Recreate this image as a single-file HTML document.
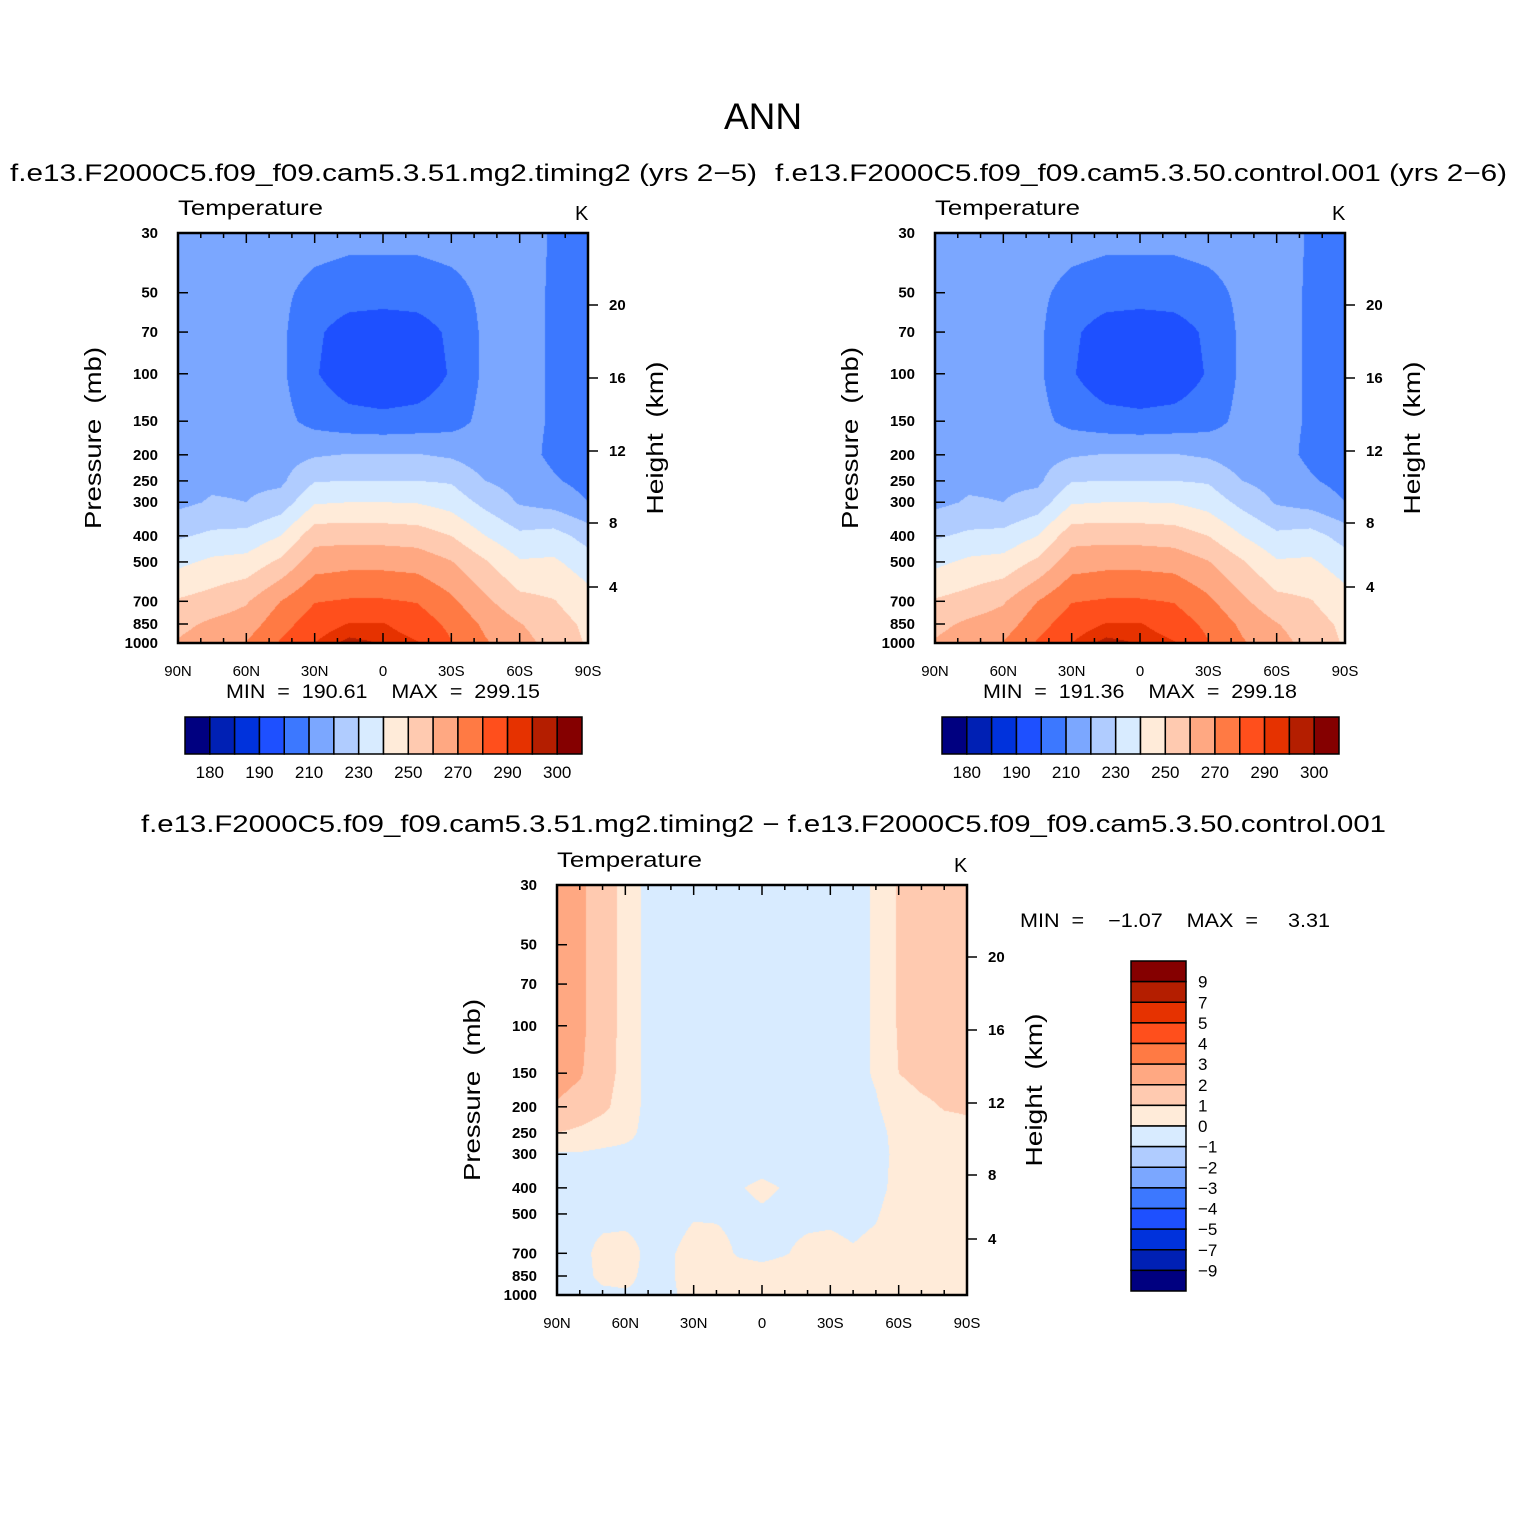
<!DOCTYPE html>
<html><head><meta charset="utf-8">
<style>
html,body{margin:0;padding:0;background:#fff;}
#root{position:relative;width:1524px;height:1524px;overflow:hidden;background:#fff;font-family:"Liberation Sans",sans-serif;}
canvas{position:absolute;}
svg{position:absolute;left:0;top:0;}
text{font-family:"Liberation Sans",sans-serif;fill:#000;white-space:pre;}
</style></head>
<body>
<div id="root">
<canvas id="cA" width="410" height="410" style="left:178px;top:233px"></canvas>
<canvas id="cB" width="410" height="410" style="left:935px;top:233px"></canvas>
<canvas id="cD" width="410" height="410" style="left:557px;top:885px"></canvas>
<svg id="sv" width="1524" height="1524" xmlns="http://www.w3.org/2000/svg"></svg>
</div>
<script>
// ---- data ----
const pLevels=[30,50,70,100,150,200,250,300,400,500,700,850,1000];
const latsA=[90,75,60,45,30,15,0,-15,-30,-45,-60,-75,-90];
// tempA[lat][pressure]
const tempA=[
[216,215,215,215,215,215,217,217.5,228.7,237.7,251,257,261],
[216,215,215,215,215,216,218,221,232,242,254,262,266],
[216,215,215,215,215,216,218,220,233,243.5,259,265,270.5],
[215,212,212,212,213,216,218,224,240,252,270,276,281],
[214,207,202,201,207,219,229.5,239,256,265.5,279.5,285.5,290],
[213,205,195,193,204,220.5,230,240,256.5,267,281,290.3,297],
[213,205,193,191,203,220.5,230,240,256,267,281,290.5,294.5],
[213,205,195,193,204,220.5,230,239.5,255,266,279.5,285.5,290.5],
[214,207,202,201,206,218.5,229,236,250,260.5,272,277.5,280.5],
[214,212,212,212,213,214,220,227,240,251,262,268,271],
[213,213,213,213,213,213.5,216,219,232,241,253,260.5,264],
[209.3,209,209,209,209,208,211,216,234,241.5,250.5,254,256],
[205,204,204,203,203,204,207,210,226,235,244,248,249]];
const tempB=[
[216,215,215,215,215,215,217,217.5,228.7,237.7,251,257,261],
[216,215,215,215,215,216,218,221,232,242,254,262,266],
[216,215,215,215,215,216,218,220,233,243.5,259,265,270.5],
[215,212,212,212,213,216,218,224,240,252,270,276,281],
[214,207,202,201,207,219,229.5,239,256,265.5,279.5,285.5,290],
[213,205,195,193,204,220.5,230,240,256.5,267,281,290.3,297],
[213,205,193,191.4,203,220.5,230,240,256,267,281,290.5,294.5],
[213,205,195,193,204,220.5,230,239.5,255,266,279.5,285.5,290.5],
[214,207,202,201,206,218.5,229,236,250,260.5,272,277.5,280.5],
[214,212,212,212,213,214,220,227,240,251,262,268,271],
[213,213,213,213,213,213.5,216,219,232,241,253,260.5,264],
[209.3,209,209,209,209,208,211,216,234,241.5,250.5,254,256],
[205,204,204,203,203,204,207,210,226,235,244,248,249]];
const latsD=[90,80,70,60,50,40,30,20,10,0,-10,-20,-30,-40,-50,-60,-70,-80,-90];
const diffD=[
[2.5,2.5,2.5,2.5,2.4,1.9,1.0,-0.1,-0.3,-0.3,-0.3,-0.3,-0.4],
[2.2,2.2,2.2,2.2,2.1,1.6,0.8,-0.1,-0.3,-0.3,-0.3,-0.3,-0.3],
[1.5,1.5,1.5,1.5,1.4,1.2,0.5,-0.2,-0.3,-0.3,0.3,0.2,-0.2],
[0.7,0.7,0.7,0.7,0.7,0.6,0.3,-0.3,-0.4,-0.3,0.4,0.2,-0.1],
[-0.3,-0.3,-0.3,-0.3,-0.3,-0.3,-0.3,-0.3,-0.3,-0.3,-0.2,-0.2,-0.1],
[-0.4,-0.4,-0.4,-0.4,-0.4,-0.4,-0.4,-0.4,-0.4,-0.4,-0.1,-0.1,-0.2],
[-0.4,-0.4,-0.4,-0.4,-0.4,-0.4,-0.4,-0.4,-0.4,-0.1,0.4,0.5,0.5],
[-0.4,-0.4,-0.4,-0.4,-0.4,-0.4,-0.4,-0.4,-0.4,-0.1,0.3,0.5,0.5],
[-0.4,-0.4,-0.4,-0.4,-0.4,-0.4,-0.4,-0.4,-0.05,-0.2,-0.1,0.4,0.5],
[-0.4,-0.4,-0.4,-0.4,-0.4,-0.4,-0.4,-0.4,0.15,-0.1,-0.2,0.3,0.5],
[-0.4,-0.4,-0.4,-0.4,-0.4,-0.4,-0.4,-0.4,-0.05,-0.2,-0.05,0.4,0.5],
[-0.4,-0.4,-0.4,-0.4,-0.4,-0.4,-0.4,-0.4,-0.4,-0.2,0.2,0.4,0.5],
[-0.4,-0.4,-0.4,-0.4,-0.4,-0.4,-0.4,-0.4,-0.4,-0.2,0.3,0.4,0.5],
[-0.3,-0.3,-0.3,-0.3,-0.3,-0.3,-0.3,-0.3,-0.3,-0.3,0.1,0.4,0.5],
[0.1,0.1,0.1,0.1,0.1,-0.1,-0.3,-0.3,-0.3,-0.1,0.3,0.5,0.5],
[1.1,1.1,1.1,1.1,1.0,0.5,0.3,0.2,0.3,0.5,0.6,0.6,0.6],
[1.5,1.5,1.5,1.5,1.3,0.8,0.6,0.6,0.6,0.6,0.6,0.6,0.6],
[1.6,1.6,1.6,1.6,1.4,1.05,0.7,0.6,0.6,0.6,0.6,0.6,0.6],
[1.7,1.7,1.7,1.7,1.5,1.1,0.8,0.7,0.7,0.7,0.7,0.7,0.7]];
const levelsT=[180,185,190,200,210,220,230,240,250,260,270,280,290,295,300];
const levelsD=[-9,-7,-5,-4,-3,-2,-1,0,1,2,3,4,5,7,9];
const cbLabelsT=["180","","190","","210","","230","","250","","270","","290","","300"];
const cbLabelsD=["−9","−7","−5","−4","−3","−2","−1","0","1","2","3","4","5","7","9"];
const palette=["#000080","#0020b4","#0032dc","#1e50ff","#3c78ff","#7ba7ff","#b0ccff","#d8ebff","#ffebd9","#ffcab0","#ffa882","#ff7a44","#ff4f1c","#e63200","#b41e00","#850000"];
const pTickLabels=[30,50,70,100,150,200,250,300,400,500,700,850,1000];
const latTickLabels=["90N","60N","30N","0","30S","60S","90S"];
const hTickLabels=["20","16","12","8","4"];

// ---- axis functions ----
const W=410,H=410;
const LP0=Math.log(30),LP1=Math.log(1000);
function yOfP(p){return (Math.log(p)-LP0)/(LP1-LP0)*H;}
function xOfLat(lat){return (90-lat)/180*W;}
const hTickOff=[72,145,218,290,354];

function hexRGB(h){return [parseInt(h.substr(1,2),16),parseInt(h.substr(3,2),16),parseInt(h.substr(5,2),16)];}
const palRGB=palette.map(hexRGB);
function colorIdx(v,levels){let i=0;while(i<levels.length&&v>=levels[i])i++;return i;}

function drawField(id,lats,grid,levels){
  const cv=document.getElementById(id),ctx=cv.getContext('2d');
  const img=ctx.createImageData(W,H);
  const lp=pLevels.map(Math.log);
  const nl=lats.length;
  for(let py=0;py<H;py++){
    const l=LP0+(py+0.5)/H*(LP1-LP0);
    let r=0;while(r<lp.length-2&&l>lp[r+1])r++;
    let fy=(l-lp[r])/(lp[r+1]-lp[r]);fy=Math.max(0,Math.min(1,fy));
    for(let px=0;px<W;px++){
      const lat=90-(px+0.5)/W*180;
      const fc=(lats[0]-lat)/(lats[0]-lats[nl-1])*(nl-1);
      let c=Math.min(nl-2,Math.max(0,Math.floor(fc)));let fx=fc-c;
      const v=(grid[c][r]*(1-fx)+grid[c+1][r]*fx)*(1-fy)+(grid[c][r+1]*(1-fx)+grid[c+1][r+1]*fx)*fy;
      const col=palRGB[colorIdx(v,levels)];
      const k=(py*W+px)*4;
      img.data[k]=col[0];img.data[k+1]=col[1];img.data[k+2]=col[2];img.data[k+3]=255;
    }
  }
  ctx.putImageData(img,0,0);
}
drawField('cA',latsA,tempA,levelsT);
drawField('cB',latsA,tempB,levelsT);
drawField('cD',latsD,diffD,levelsD);

// ---- svg ----
const NS="http://www.w3.org/2000/svg";
const sv=document.getElementById('sv');
function mk(tag,attrs,parent){const e=document.createElementNS(NS,tag);for(const k in attrs)e.setAttribute(k,attrs[k]);(parent||sv).appendChild(e);return e;}
function txt(s,x,y,size,anchor,parent,extra){const e=mk('text',Object.assign({x:x,y:y,'font-size':size,'text-anchor':anchor||'start'},extra||{}),parent);e.textContent=s;return e;}

let t=txt("ANN",763,129,37,'middle');


t=txt("f.e13.F2000C5.f09_f09.cam5.3.51.mg2.timing2 (yrs 2−5)",10,181,24,'start',null,{textLength:747,lengthAdjust:'spacingAndGlyphs'});


t=txt("f.e13.F2000C5.f09_f09.cam5.3.50.control.001 (yrs 2−6)",775,181,24,'start',null,{textLength:732,lengthAdjust:'spacingAndGlyphs'});


t=txt("f.e13.F2000C5.f09_f09.cam5.3.51.mg2.timing2 − f.e13.F2000C5.f09_f09.cam5.3.50.control.001",141,832,24,'start',null,{textLength:1245,lengthAdjust:'spacingAndGlyphs'});



function axes(ox,oy,name){
  const g=mk('g',{transform:`translate(${ox},${oy})`});
  
  
  mk('rect',{x:0,y:0,width:W,height:H,fill:'none',stroke:'#000','stroke-width':2.5},g);
  for(let lat=90;lat>=-90;lat-=10){
    const x=xOfLat(lat),major=(lat%30===0),len=major?10:5;
    mk('line',{x1:x,y1:0,x2:x,y2:len,stroke:'#000','stroke-width':1.5},g);
    mk('line',{x1:x,y1:H,x2:x,y2:H-len,stroke:'#000','stroke-width':1.5},g);
  }
  latTickLabels.forEach((s,i)=>{const e=txt(s,xOfLat(90-30*i),H+33,15,'middle',g);
    
    });
  pTickLabels.forEach(p=>{const y=yOfP(p);
    mk('line',{x1:0,y1:y,x2:10,y2:y,stroke:'#000','stroke-width':1.5},g);
    const e=txt(String(p),-20,y+5,15,'end',g,{'font-weight':'bold'});
    
    });
  hTickLabels.forEach((s,i)=>{const y=hTickOff[i];
    mk('line',{x1:W,y1:y,x2:W+10,y2:y,stroke:'#000','stroke-width':1.5},g);
    const e=txt(s,W+21,y+5,15,'start',g,{'font-weight':'bold'});
    
    });
  let e=txt("Temperature",0,-18,21,'start',g,{textLength:145,lengthAdjust:'spacingAndGlyphs'});
  
  
  e=txt("K",W-13,-13,20,'start',g);
  
  
  e=txt("Pressure  (mb)",0,0,23,'middle',g,{transform:`translate(-77,205) rotate(-90)`,textLength:182,lengthAdjust:'spacingAndGlyphs'});
  
  
  e=txt("Height  (km)",0,0,23,'middle',g,{transform:`translate(${W+75},205) rotate(-90)`,textLength:153,lengthAdjust:'spacingAndGlyphs'});
  
  
  return g;
}
axes(178,233,'test');
axes(935,233,'control');
axes(557,885,'difference');

function hbar(ox,oy,name){
  const g=mk('g',{transform:`translate(${ox},${oy})`});
  
  
  const bw=397/16;
  palette.forEach((c,i)=>{mk('rect',{x:i*bw,y:0,width:bw,height:37,fill:c,stroke:'#000','stroke-width':1.5},g);});
  cbLabelsT.forEach((s,i)=>{if(!s)return;const e=txt(s,(i+1)*bw,61,17,'middle',g);
    
    });
}
hbar(185,717,'colorbar-test');
hbar(942,717,'colorbar-control');
t=txt("MIN  =  190.61    MAX  =  299.15",226,698,19,'start',null,{textLength:314,lengthAdjust:'spacingAndGlyphs'});


t=txt("MIN  =  191.36    MAX  =  299.18",983,698,19,'start',null,{textLength:314,lengthAdjust:'spacingAndGlyphs'});


t=txt("MIN  =    −1.07    MAX  =     3.31",1020,927,19,'start',null,{textLength:310,lengthAdjust:'spacingAndGlyphs'});



(function(){
  const g=mk('g',{transform:'translate(1131,961)'});
  
  
  const bh=330/16;
  palette.slice().reverse().forEach((c,i)=>{mk('rect',{x:0,y:i*bh,width:55,height:bh,fill:c,stroke:'#000','stroke-width':1.5},g);});
  cbLabelsD.slice().reverse().forEach((s,i)=>{const e=txt(s,67,(i+1)*bh+6,17,'start',g);
    
    });
})();
</script>
</body></html>
